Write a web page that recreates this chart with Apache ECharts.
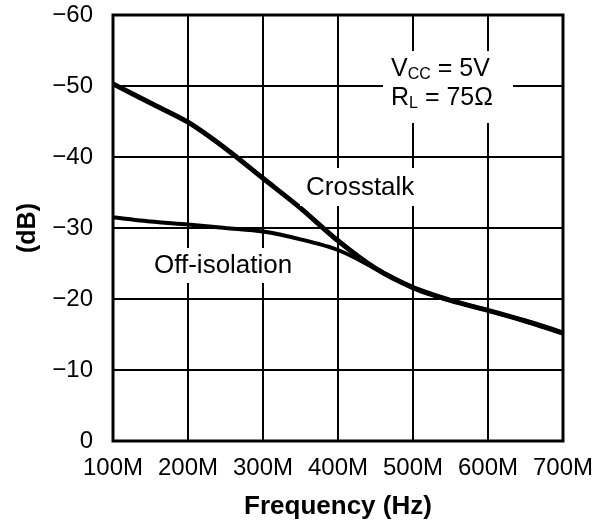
<!DOCTYPE html>
<html>
<head>
<meta charset="utf-8">
<script src="https://cdn.jsdelivr.net/npm/echarts@6/dist/echarts.min.js"></script>
<style>
  html, body { margin: 0; padding: 0; background: #fff; }
  #chart { width: 611px; height: 525px; }
</style>
</head>
<body>
<div id="chart"></div>
<script>
// 频率 (MHz)
const freq = [100, 150, 200, 250, 300, 350, 400, 450, 500, 550, 600, 650, 700];
// 串扰 Crosstalk (dB)
const crosstalk = [-50.3, -47.6, -44.9, -41.2, -37.0, -32.8, -28.2, -24.3, -21.6, -19.8, -18.4, -16.9, -15.2];
// 关断隔离 Off-isolation (dB)
const offIsolation = [-31.5, -30.9, -30.5, -30.0, -29.5, -28.4, -26.9, -24.3, -21.6, -19.8, -18.4, -16.9, -15.2];

const font = 'Liberation Sans, Arial, sans-serif';

function pairs(xs, ys) {
  return xs.map((x, i) => [x, ys[i]]);
}

const chart = echarts.init(document.getElementById('chart'));

const option = {
  backgroundColor: '#fff',
  animation: false,
  grid: {
    left: 113,
    right: 48,
    top: 15,
    bottom: 80,
    show: true,
    borderColor: '#000',
    borderWidth: 3,
    z: 3
  },
  xAxis: {
    type: 'value',
    min: 100,
    max: 700,
    interval: 100,
    name: 'Frequency (Hz)',
    nameLocation: 'middle',
    nameGap: 53,
    nameTextStyle: { color: '#000', fontFamily: font, fontSize: 26, fontWeight: 'bold' },
    axisLine: { show: false },
    axisTick: { show: false },
    axisLabel: {
      color: '#000',
      fontFamily: font,
      fontSize: 24,
      margin: 15,
      formatter: v => v + 'M'
    },
    splitLine: { show: true, lineStyle: { color: '#000', width: 2 } }
  },
  yAxis: {
    type: 'value',
    min: -60,
    max: 0,
    interval: 10,
    inverse: true,
    name: '(dB)',
    nameLocation: 'middle',
    nameGap: 72,
    nameTextStyle: { color: '#000', fontFamily: font, fontSize: 25, fontWeight: 'bold' },
    axisLine: { show: false },
    axisTick: { show: false },
    axisLabel: {
      color: '#000',
      fontFamily: font,
      fontSize: 24,
      margin: 20,
      formatter: v => (v === 0 ? '0' : '\u2212' + Math.abs(v))
    },
    splitLine: { show: true, lineStyle: { color: '#000', width: 2 } }
  },
  // 注释文字（白底遮住网格线）
  graphic: [
    { type: 'rect', z: 50, shape: { x: 383, y: 51, width: 130, height: 72 }, style: { fill: '#fff' } },
    {
      type: 'text', z: 51, x: 391, y: 57,
      style: {
        text: '{a|V}{s|CC}{a| = 5V}\n{a|R}{s|L}{a| = 75\u03a9}',
        fill: '#000',
        rich: {
          a: { fontFamily: font, fontSize: 25, lineHeight: 29, verticalAlign: 'top' },
          s: { fontFamily: font, fontSize: 16, lineHeight: 29, padding: [10, 0, 0, 0], verticalAlign: 'top' }
        }
      }
    },
    { type: 'rect', z: 50, shape: { x: 300, y: 168, width: 124, height: 38 }, style: { fill: '#fff' } },
    {
      type: 'text', z: 51, x: 306, y: 188,
      style: { text: 'Crosstalk', fill: '#000', font: '26px ' + font, textVerticalAlign: 'middle' }
    },
    { type: 'rect', z: 50, shape: { x: 148, y: 248, width: 152, height: 35 }, style: { fill: '#fff' } },
    {
      type: 'text', z: 51, x: 154, y: 266,
      style: { text: 'Off-isolation', fill: '#000', font: '26px ' + font, textVerticalAlign: 'middle' }
    }
  ],
  series: [
    {
      name: 'Crosstalk',
      type: 'line',
      data: pairs(freq, crosstalk),
      smooth: 0.3,
      symbol: 'none',
      z: 10,
      lineStyle: { color: '#000', width: 5 }
    },
    {
      name: 'Off-isolation',
      type: 'line',
      data: pairs(freq, offIsolation),
      smooth: 0.3,
      symbol: 'none',
      z: 10,
      lineStyle: { color: '#000', width: 4 }
    }
  ]
};

chart.setOption(option);
</script>
</body>
</html>
